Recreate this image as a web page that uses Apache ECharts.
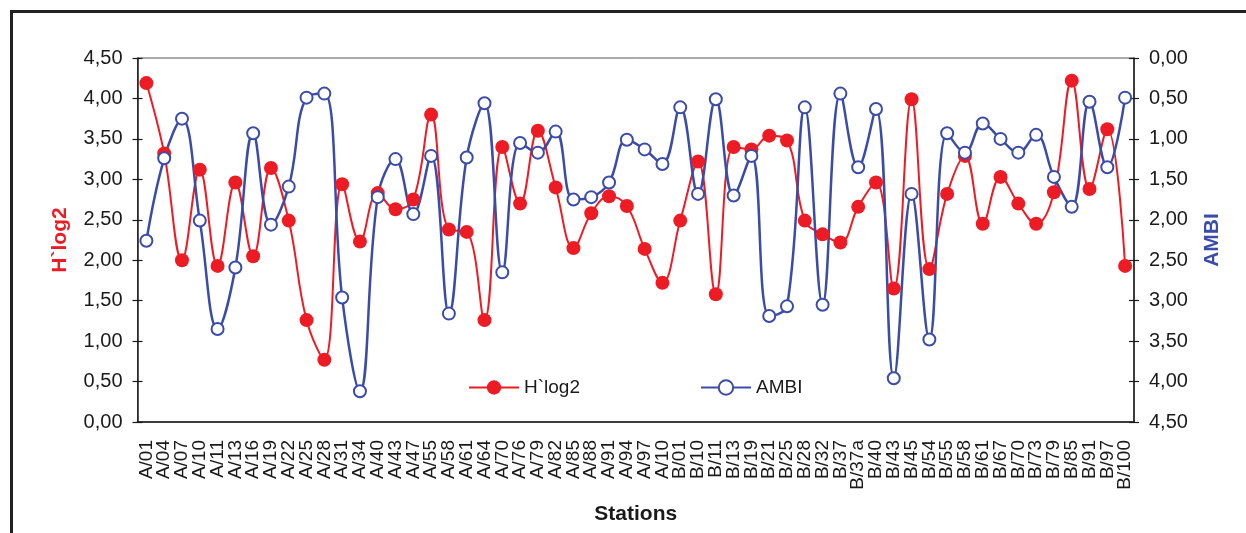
<!DOCTYPE html>
<html>
<head>
<meta charset="utf-8">
<title>H`log2 / AMBI</title>
<script src="https://cdn.jsdelivr.net/npm/echarts@6.0.0/dist/echarts.min.js"></script>
<style>
  html, body { margin: 0; padding: 0; background: #fff; }
  #chart { width: 1246px; height: 533px; }
</style>
</head>
<body>
<div id="chart"></div>
<script>
// stations
let stations = [
  'A/01', 'A/04', 'A/07', 'A/10', 'A/11', 'A/13', 'A/16', 'A/19', 'A/22', 'A/25',
  'A/28', 'A/31', 'A/34', 'A/40', 'A/43', 'A/47', 'A/55', 'A/58', 'A/61', 'A/64',
  'A/70', 'A/76', 'A/79', 'A/82', 'A/85', 'A/88', 'A/91', 'A/94', 'A/97', 'A/10',
  'B/01', 'B/10', 'B/11', 'B/13', 'B/19', 'B/21', 'B/25', 'B/28', 'B/32', 'B/37',
  'B/37a', 'B/40', 'B/43', 'B/45', 'B/54', 'B/55', 'B/58', 'B/61', 'B/67', 'B/70',
  'B/73', 'B/79', 'B/85', 'B/91', 'B/97', 'B/100'
]
// H`log2 (left axis)
let hlog2 = [
  4.19, 3.32, 2.00, 3.12, 1.93, 2.96, 2.05, 3.14, 2.49, 1.26,
  0.77, 2.94, 2.23, 2.83, 2.63, 2.75, 3.80, 2.38, 2.35, 1.26,
  3.40, 2.70, 3.60, 2.90, 2.15, 2.58, 2.79, 2.67, 2.14, 1.72,
  2.49, 3.22, 1.58, 3.40, 3.37, 3.54, 3.48, 2.49, 2.32, 2.22,
  2.66, 2.96, 1.65, 3.99, 1.89, 2.82, 3.29, 2.45, 3.03, 2.70,
  2.45, 2.84, 4.22, 2.88, 3.62, 1.93
]
// AMBI (right axis, inverted)
let ambi = [
  2.26, 1.24, 0.75, 2.01, 3.35, 2.59, 0.93, 2.06, 1.59, 0.49,
  0.44, 2.96, 4.12, 1.72, 1.25, 1.93, 1.21, 3.16, 1.23, 0.56,
  2.65, 1.05, 1.17, 0.91, 1.75, 1.72, 1.54, 1.01, 1.13, 1.31,
  0.61, 1.68, 0.51, 1.70, 1.21, 3.19, 3.07, 0.61, 3.05, 0.44,
  1.35, 0.63, 3.96, 1.68, 3.48, 0.93, 1.17, 0.81, 1.00, 1.17,
  0.95, 1.47, 1.84, 0.54, 1.35, 0.49
]

let font = 'Liberation Sans, Arial, sans-serif'
let red = '#ED1C24'
let blue = '#3A4CA8'
let ink = '#1a1a1a'

// decimal comma like the original
function fmt (v) {
  return v.toFixed(2).replace('.', ',')
}

function valueAxis (pos, inverse, main) {
  return {
    type: 'value',
    position: pos,
    inverse: inverse,
    min: 0,
    max: 4.5,
    interval: 0.5,
    splitLine: { show: false },
    axisLine: { show: main, lineStyle: { color: ink, width: 1.5 } },
    axisTick: { show: true, inside: !main, length: 5, lineStyle: { color: ink, width: 1.2 } },
    axisLabel: {
      show: main,
      margin: 15,
      color: ink,
      fontSize: 20,
      fontFamily: font,
      formatter: fmt
    }
  }
}

let myChart = echarts.init(document.getElementById('chart'))
let option = {
  backgroundColor: '#fff',
  animation: false,
  textStyle: { fontFamily: font },
  graphic: [{
    // outer frame, cut off at right and bottom
    type: 'rect',
    shape: { x: 11.5, y: 11.5, width: 1300, height: 600 },
    style: { fill: 'none', stroke: '#222', lineWidth: 3 },
    silent: true
  }],
  grid: {
    left: 137.5,
    right: 112,
    top: 58,
    bottom: 111,
    show: true,
    borderColor: '#555',
    borderWidth: 1
  },
  legend: {
    left: 463,
    top: 373,
    itemWidth: 50,
    itemHeight: 18,
    itemGap: 120,
    textStyle: { fontSize: 19, color: ink, fontFamily: font },
    data: ['H`log2', 'AMBI']
  },
  xAxis: [{
    type: 'category',
    data: stations,
    boundaryGap: true,
    name: 'Stations',
    nameLocation: 'middle',
    nameGap: 82,
    nameTextStyle: { fontSize: 21, fontWeight: 'bold', color: ink, fontFamily: font },
    axisLine: { lineStyle: { color: ink, width: 1.5 } },
    axisTick: { length: 5, lineStyle: { color: ink, width: 1.2 } },
    axisLabel: {
      interval: 0,
      rotate: 90,
      margin: 18,
      color: ink,
      fontSize: 19,
      fontFamily: font
    }
  }, {
    // inner half of the crossing ticks
    type: 'category',
    data: stations,
    position: 'bottom',
    boundaryGap: true,
    axisLine: { show: false },
    axisTick: { inside: true, length: 5, lineStyle: { color: ink, width: 1.2 } },
    axisLabel: { show: false }
  }],
  yAxis: [
    Object.assign(valueAxis('left', false, true), {
      name: 'H`log2',
      nameLocation: 'middle',
      nameRotate: 90,
      nameGap: 67,
      nameTextStyle: { fontSize: 21, fontWeight: 'bold', color: red, fontFamily: font }
    }),
    Object.assign(valueAxis('right', true, true), {
      name: 'AMBI',
      nameLocation: 'middle',
      nameRotate: 90,
      nameGap: 68,
      nameTextStyle: { fontSize: 21, fontWeight: 'bold', color: blue, fontFamily: font }
    }),
    valueAxis('left', false, false),
    valueAxis('right', true, false)
  ],
  series: [{
    name: 'H`log2',
    type: 'line',
    data: hlog2,
    yAxisIndex: 0,
    smooth: 0.4,
    symbol: 'circle',
    symbolSize: 14,
    color: red,
    lineStyle: { color: red, width: 2 },
    itemStyle: { color: red }
  }, {
    name: 'AMBI',
    type: 'line',
    data: ambi,
    yAxisIndex: 1,
    smooth: 0.4,
    symbol: 'emptyCircle',
    symbolSize: 12,
    color: blue,
    lineStyle: { color: blue, width: 2.5 },
    itemStyle: { color: blue, borderWidth: 2.5 }
  }]
}
myChart.setOption(option)
</script>
</body>
</html>
